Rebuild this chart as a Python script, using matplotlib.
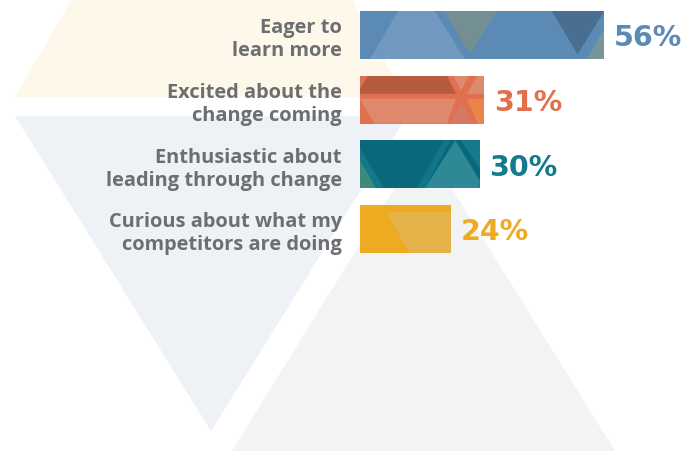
import matplotlib
matplotlib.use("Agg")
import matplotlib.pyplot as plt
from matplotlib.patches import Polygon

# ---- data ----
categories = ["Eager to\nlearn more",
              "Excited about the\nchange coming",
              "Enthusiastic about\nleading through change",
              "Curious about what my\ncompetitors are doing"]
values = [56, 31, 30, 24]
value_labels = ["56%", "31%", "30%", "24%"]
bar_colors = ["#5b8ab5", "#e1704e", "#0b687b", "#eeab22"]
text_colors = ["#5b8ab5", "#e2704c", "#147b8a", "#eeaa20"]
label_color = "#6d6e71"

W, H = 694, 452
LABEL_FONT = ["Open Sans", "DejaVu Sans"]
VALUE_FONT = ["DejaVu Sans"]

fig = plt.figure(figsize=(W / 100, H / 100), dpi=100)

# ---- decorative background (pixel space) ----
bg = fig.add_axes([0, 0, 1, 1])
bg.set_xlim(0, W)
bg.set_ylim(H, 0)
bg.axis("off")
bg_shapes = [
    ([(15, 98), (404, 98), (352, 0), (72, 0)], "#fef8ea"),
    ([(15, 117), (407, 117), (211, 432)], "#eef1f6"),
    ([(232, 452), (423, 143), (615, 452)], "#f2f4f4"),
]
for pts, c in bg_shapes:
    bg.add_patch(Polygon(pts, closed=True, fc=c, ec="none"))

# ---- bar axes ----
left_px = 360
px_per_unit = 4.803
x0 = 5.1
ax = fig.add_axes([left_px / W, 0, 1 - left_px / W, 1])
ax.patch.set_alpha(0)
ax.set_xlim(x0, x0 + (W - left_px) / px_per_unit)
step = (230 - 36) / 3
ax.set_ylim((H - 36) / step, -36 / step)
ypos = list(range(len(values)))
bh = 48 / step
bars = ax.barh(ypos, values, height=bh, color=bar_colors, zorder=2)

# decorative facets inside each bar, in bar-relative (u, v) coordinates
facets = [
    [  # bar 1
        ([(0.155, 0), (0.306, 0), (0.429, 1), (0.041, 1)], "#7199c0"),
        ([(0.343, 0), (0.559, 0), (0.449, 0.9)], "#748f93"),
        ([(0.784, 0), (1.0, 0), (0.890, 0.9)], "#4a6d92"),
        ([(0.927, 1), (1.0, 1), (1.0, 0.375)], "#78959a"),
    ],
    [  # bar 2
        ([(0.065, 0), (0.699, 0), (0.772, 0.375), (0, 0.375), (0, 0.27)], "#b55b3e"),
        ([(0.748, 0), (0.878, 0), (0.813, 0.31)], "#df8a6e"),
        ([(0.943, 0), (1, 0), (1, 0.375), (0.862, 0.375)], "#db8a70"),
        ([(0, 0.479), (0.772, 0.479), (0.699, 1), (0.114, 1)], "#de886c"),
        ([(0.813, 0.542), (0.911, 1), (0.724, 1)], "#d47a62"),
        ([(0.862, 0.479), (1, 0.479), (1, 1), (0.951, 1)], "#e8864a"),
    ],
    [  # bar 3
        ([(0, 0.167), (0.203, 1), (0.136, 1), (0, 0.417)], "#13788a"),
        ([(0, 0.417), (0.136, 1), (0, 1)], "#3a8a7e"),
        ([(0.703, 0), (0.754, 0), (0.542, 1), (0.475, 1)], "#127689"),
        ([(0.847, 0), (1, 0), (1, 0.6)], "#177a8c"),
        ([(0.797, 0), (1, 0.833), (1, 1), (0.542, 1)], "#2f8896"),
    ],
    [  # bar 4
        ([(0.301, 0.146), (1, 0.146), (1, 1), (0.538, 1)], "#e6b24a"),
    ],
]
for i, (bar, val) in enumerate(zip(bars, values)):
    w = val - x0
    top = ypos[i] - bh / 2
    for pts, c in facets[i]:
        xy = [(x0 + u * w, top + v * bh) for u, v in pts]
        p = Polygon(xy, closed=True, fc=c, ec="none", zorder=3)
        ax.add_patch(p)
        p.set_clip_path(bar)

# value labels
for i, (val, lab, c) in enumerate(zip(values, value_labels, text_colors)):
    ax.annotate(lab, (val, ypos[i]), xytext=(7.0, -7.4), textcoords="offset points",
                ha="left", va="baseline", fontsize=20.5, fontweight="bold",
                color=c, family=VALUE_FONT, annotation_clip=False)

# category labels
ax.set_yticks(ypos)
ax.set_yticklabels(categories, fontsize=14.4, fontweight="bold", color=label_color,
                   family=LABEL_FONT, linespacing=1.18)
ax.tick_params(axis="y", length=0, pad=13)
ax.set_xticks([])
for s in ax.spines.values():
    s.set_visible(False)

fig.savefig("out.png", dpi=100)
